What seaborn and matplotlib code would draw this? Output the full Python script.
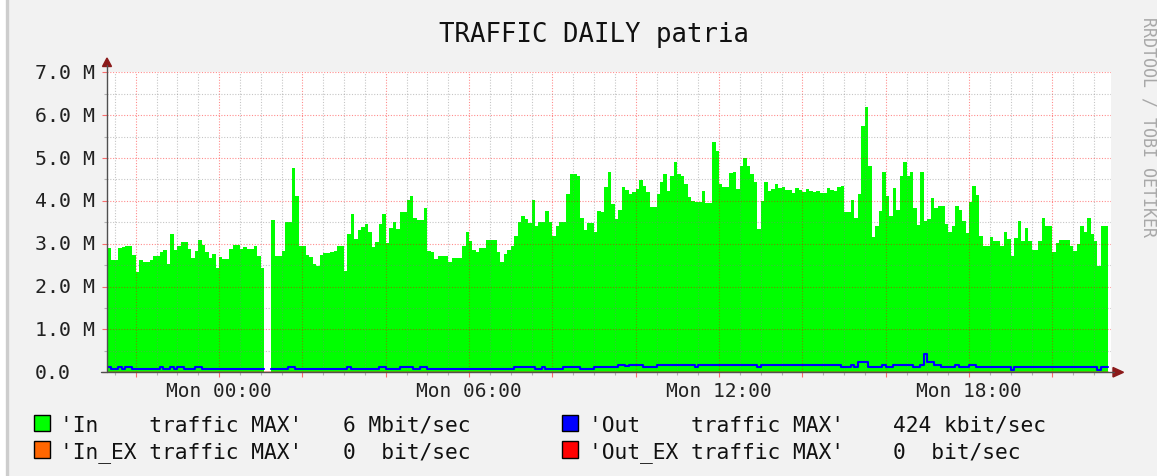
import numpy as np
import pandas as pd
import matplotlib
matplotlib.use("Agg")
import matplotlib.pyplot as plt
from matplotlib.lines import Line2D
from matplotlib.patches import Rectangle, Polygon
from matplotlib.ticker import MultipleLocator, FuncFormatter
import matplotlib.transforms as mtransforms
import seaborn as sns

nan = np.nan

# 5 minute MAX samples, starting Sun 21:20 (hours are relative to Mon 00:00)
start_min = -160
step_min = 5

# In traffic, Mbit/s, one row per hour
in_traffic = [
    2.89, 2.63, 2.63, 2.89, 2.92, 2.95, 2.95, 2.74, 2.35, 2.62, 2.58, 2.58,
    2.63, 2.71, 2.71, 2.80, 2.85, 2.52, 3.23, 2.86, 2.95, 3.05, 3.05, 2.88,
    2.67, 2.82, 3.09, 2.97, 2.80, 2.67, 2.75, 2.43, 2.70, 2.64, 2.64, 2.88,
    2.98, 2.98, 2.88, 2.92, 2.88, 2.88, 2.95, 2.71, 2.43, nan, nan, 3.55,
    2.71, 2.71, 2.82, 3.50, 3.50, 4.77, 4.12, 2.94, 2.94, 2.74, 2.68, 2.53,
    2.49, 2.74, 2.78, 2.78, 2.80, 2.84, 2.94, 2.94, 2.36, 3.23, 3.69, 3.10,
    3.33, 3.38, 3.46, 3.28, 2.92, 3.05, 3.46, 3.69, 3.02, 3.36, 3.51, 3.34,
    3.75, 3.75, 4.02, 4.12, 3.59, 3.56, 3.56, 3.83, 2.83, 2.80, 2.64, 2.71,
    2.71, 2.71, 2.58, 2.66, 2.66, 2.66, 2.95, 3.28, 3.07, 2.86, 2.80, 2.89,
    2.89, 3.09, 3.09, 3.09, 2.80, 2.58, 2.76, 2.86, 2.95, 3.19, 3.51, 3.64,
    3.58, 3.48, 4.02, 3.42, 3.51, 3.51, 3.77, 3.51, 3.19, 3.41, 3.51, 3.51,
    4.16, 4.63, 4.63, 4.59, 3.59, 3.33, 3.48, 3.48, 3.28, 3.77, 3.73, 4.32,
    4.68, 3.93, 3.58, 3.79, 4.32, 4.26, 4.16, 4.21, 4.28, 4.49, 4.35, 4.21,
    3.85, 3.85, 4.16, 4.45, 4.63, 4.22, 4.59, 4.91, 4.63, 4.57, 4.39, 4.08,
    4.00, 3.98, 3.97, 4.24, 3.95, 3.95, 5.37, 5.17, 4.39, 4.32, 4.32, 4.65,
    4.67, 4.28, 4.82, 4.99, 4.81, 4.63, 4.43, 3.34, 4.00, 4.45, 4.24, 4.28,
    4.39, 4.29, 4.32, 4.26, 4.26, 4.18, 4.29, 4.26, 4.21, 4.28, 4.24, 4.21,
    4.24, 4.18, 4.18, 4.29, 4.26, 4.24, 4.32, 4.35, 3.75, 3.75, 4.03, 3.60,
    4.16, 5.74, 6.18, 4.82, 3.15, 3.41, 3.77, 4.68, 4.12, 3.65, 4.30, 3.79,
    4.59, 4.90, 4.59, 4.68, 3.83, 3.44, 4.68, 3.54, 3.58, 4.06, 3.83, 3.89,
    3.89, 3.46, 3.28, 3.41, 3.89, 3.79, 3.54, 3.25, 3.97, 4.35, 4.14, 3.19,
    2.95, 2.95, 3.15, 3.07, 3.07, 2.95, 3.27, 3.11, 2.72, 3.13, 3.54, 3.07,
    3.36, 3.07, 2.86, 2.86, 3.07, 3.59, 3.42, 3.42, 2.80, 3.02, 3.09, 3.09,
    3.09, 2.95, 2.82, 2.99, 3.41, 3.28, 3.59, 3.23, 3.07, 2.49, 3.41, 3.41,
]

# Out traffic, Mbit/s
out_traffic = [
    0.13, 0.08, 0.08, 0.12, 0.08, 0.12, 0.12, 0.08, 0.08, 0.08, 0.08, 0.08,
    0.08, 0.08, 0.08, 0.12, 0.08, 0.08, 0.12, 0.08, 0.12, 0.12, 0.08, 0.08,
    0.08, 0.12, 0.12, 0.08, 0.08, 0.08, 0.08, 0.08, 0.08, 0.08, 0.08, 0.08,
    0.08, 0.08, 0.08, 0.08, 0.08, 0.08, 0.08, 0.08, 0.08, nan, nan, 0.08,
    0.08, 0.08, 0.08, 0.08, 0.12, 0.12, 0.08, 0.08, 0.08, 0.08, 0.08, 0.08,
    0.08, 0.08, 0.08, 0.08, 0.08, 0.08, 0.08, 0.08, 0.08, 0.12, 0.08, 0.08,
    0.08, 0.08, 0.08, 0.08, 0.08, 0.08, 0.12, 0.12, 0.08, 0.08, 0.08, 0.08,
    0.12, 0.12, 0.12, 0.12, 0.08, 0.08, 0.12, 0.12, 0.08, 0.08, 0.08, 0.08,
    0.08, 0.08, 0.08, 0.08, 0.08, 0.08, 0.08, 0.08, 0.08, 0.08, 0.08, 0.08,
    0.08, 0.08, 0.08, 0.08, 0.08, 0.08, 0.08, 0.08, 0.08, 0.12, 0.12, 0.12,
    0.12, 0.12, 0.12, 0.08, 0.08, 0.12, 0.08, 0.08, 0.08, 0.08, 0.08, 0.12,
    0.12, 0.12, 0.12, 0.12, 0.08, 0.08, 0.08, 0.08, 0.12, 0.12, 0.12, 0.12,
    0.12, 0.12, 0.12, 0.17, 0.17, 0.15, 0.17, 0.17, 0.17, 0.17, 0.12, 0.12,
    0.12, 0.12, 0.17, 0.17, 0.17, 0.17, 0.17, 0.17, 0.17, 0.17, 0.17, 0.17,
    0.17, 0.12, 0.17, 0.17, 0.17, 0.17, 0.17, 0.17, 0.17, 0.17, 0.17, 0.17,
    0.17, 0.17, 0.17, 0.17, 0.17, 0.17, 0.17, 0.12, 0.17, 0.17, 0.17, 0.17,
    0.17, 0.17, 0.17, 0.17, 0.17, 0.17, 0.17, 0.17, 0.17, 0.17, 0.17, 0.17,
    0.17, 0.17, 0.17, 0.17, 0.17, 0.17, 0.17, 0.12, 0.12, 0.12, 0.17, 0.12,
    0.23, 0.23, 0.23, 0.12, 0.12, 0.12, 0.12, 0.17, 0.12, 0.12, 0.17, 0.17,
    0.17, 0.17, 0.17, 0.17, 0.12, 0.12, 0.17, 0.424, 0.23, 0.23, 0.17, 0.17,
    0.12, 0.12, 0.12, 0.12, 0.17, 0.12, 0.12, 0.12, 0.17, 0.17, 0.12, 0.12,
    0.12, 0.12, 0.12, 0.12, 0.12, 0.12, 0.12, 0.12, 0.06, 0.12, 0.12, 0.12,
    0.12, 0.12, 0.12, 0.12, 0.12, 0.12, 0.12, 0.12, 0.12, 0.12, 0.12, 0.12,
    0.12, 0.12, 0.12, 0.12, 0.12, 0.12, 0.12, 0.12, 0.12, 0.06, 0.12, 0.12,
]

# the _EX series are flat zero over the whole span (start, end)
in_ex_traffic = [0.0, 0.0]
out_ex_traffic = [0.0, 0.0]

y_tick_text = ["0.0", "1.0 M", "2.0 M", "3.0 M", "4.0 M", "5.0 M", "6.0 M", "7.0 M"]
x_label_hours = [0, 6, 12, 18]
x_label_text = ["Mon 00:00", "Mon 06:00", "Mon 12:00", "Mon 18:00"]

# time edges of each sample, in hours
t_edges = (start_min + step_min * np.arange(len(in_traffic) + 1)) / 60.0

W, H = 1157, 477


def fx(px):
    return px / W


def fy(py):
    return 1 - py / H


def runs(vals):
    # (start, stop) index pairs of the stretches without missing samples
    ok = ~np.isnan(np.asarray(vals, dtype=float))
    out, start = [], None
    for i, good in enumerate(ok):
        if good and start is None:
            start = i
        if not good and start is not None:
            out.append((start, i))
            start = None
    if start is not None:
        out.append((start, len(ok)))
    return out


sns.set_style("ticks")
plt.rcParams["font.family"] = ["DejaVu Sans Mono"]

fig = plt.figure(figsize=(W / 100, H / 100), dpi=100, facecolor="white")

# rrdtool canvas with its light shade border (top and left only show)
fig.patches.append(Rectangle((fx(6.5), -0.1), 1.2, 1.1 + fy(6.5), transform=fig.transFigure,
                             facecolor="#F2F2F2", edgecolor="#CDCDCD", lw=2.4, zorder=-10))

ax_left, ax_right, ax_top, ax_bottom = 107, 1111, 73.3, 373.3
ax = fig.add_axes([fx(ax_left), fy(ax_bottom), (ax_right - ax_left) / W, (ax_bottom - ax_top) / H])
ax.set_facecolor("white")

px_per_hour = 1000 / 24.0
zero_px = 219

# in traffic as a stepped area
in_arr = np.asarray(in_traffic, dtype=float)
for a, b in runs(in_arr):
    xs = t_edges[a:b + 1]
    ys = np.append(in_arr[a:b], in_arr[b - 1])
    ax.fill_between(xs, ys, step="post", color="#00FF00", lw=0, zorder=1)

# out line as steps, split at the missing samples
rows = []
for seg, (a, b) in enumerate(runs(out_traffic)):
    for i in range(a, b):
        rows.append((t_edges[i], out_traffic[i], seg))
        rows.append((t_edges[i + 1], out_traffic[i], seg))
out_df = pd.DataFrame(rows, columns=["hour", "mbit", "seg"])
sns.lineplot(data=out_df, x="hour", y="mbit", units="seg", estimator=None, sort=False,
             color="#0000FF", lw=1.5, ax=ax, zorder=4, legend=False)

span = [t_edges[0], t_edges[-1]]
sns.lineplot(x=span, y=in_ex_traffic, color="#FF6600", lw=1.0, ax=ax, zorder=4)
sns.lineplot(x=span, y=out_ex_traffic, color="#FF0000", lw=1.0, ax=ax, zorder=4)

ax.set_xlim((ax_left - zero_px) / px_per_hour, (ax_right - zero_px) / px_per_hour)
ax.set_ylim(0, 7)
ax.set_xlabel("")
ax.set_ylabel("")
for s in ax.spines.values():
    s.set_visible(False)

ax.xaxis.set_major_locator(MultipleLocator(2))
ax.xaxis.set_minor_locator(MultipleLocator(0.5))
ax.yaxis.set_major_locator(MultipleLocator(1))
ax.yaxis.set_minor_locator(MultipleLocator(0.5))
x_names = dict(zip(x_label_hours, x_label_text))
ax.xaxis.set_major_formatter(FuncFormatter(lambda v, p: x_names.get(int(round(v)), "")))
ax.yaxis.set_major_formatter(FuncFormatter(lambda v, p: ""))

ax.set_axisbelow(False)
ax.grid(which="major", color="#FF0000", alpha=0.45, linestyle=(0, (1, 1.5)), lw=0.8)
ax.grid(which="minor", color="#808080", alpha=0.45, linestyle=(0, (1, 1.5)), lw=0.8)
ax.tick_params(which="major", length=3.6, width=0.8, color=(1, 0, 0, 0.55),
               labelsize=14, labelcolor="#222222", pad=3, left=True, bottom=True)
ax.tick_params(which="minor", length=2.5, width=0.8, color=(0.5, 0.5, 0.5, 0.55),
               left=True, bottom=True)

# y labels are left aligned like rrdtool
trans = mtransforms.blended_transform_factory(fig.transFigure, ax.transData)
for v, lab in enumerate(y_tick_text):
    ax.text(fx(35), v, lab, transform=trans, ha="left", va="center",
            fontsize=14.3, color="#222222", clip_on=False)

# axis lines with arrows
fig.lines.append(Line2D([fx(107), fx(107)], [fy(373.3), fy(66)], transform=fig.transFigure,
                        color="#505050", lw=1.0))
fig.lines.append(Line2D([fx(101), fx(1114)], [fy(373.3), fy(373.3)], transform=fig.transFigure,
                        color="#505050", lw=1.0))
arrow_c = "#8B1A1A"
fig.patches.append(Polygon([(fx(107), fy(59)), (fx(102.5), fy(67.5)), (fx(111.5), fy(67.5))],
                           closed=True, transform=fig.transFigure, color=arrow_c))
fig.patches.append(Polygon([(fx(1123.5), fy(373.3)), (fx(1113), fy(368.5)), (fx(1113), fy(378))],
                           closed=True, transform=fig.transFigure, color=arrow_c))

fig.text(fx(594), fy(42), "TRAFFIC DAILY patria", ha="center", va="baseline",
         fontsize=18.5, color="#111111")
fig.text(fx(1148), fy(127), "RRDTOOL / TOBI OETIKER", rotation=270, ha="center", va="center",
         fontsize=12, color="#A8A8A8")

# legend
in_max = np.nanmax(in_traffic)
out_max = np.nanmax(out_traffic)
legend_rows = [
    ("#00FF00", "'In    traffic MAX'", f"{in_max:.0f} Mbit/sec",
     "#0000FF", "'Out    traffic MAX'", f"{out_max * 1000:.0f} kbit/sec"),
    ("#FF6600", "'In_EX traffic MAX'", "0  bit/sec",
     "#FF0000", "'Out_EX traffic MAX'", "0  bit/sec"),
]
for r, (c1, t1, v1, c2, t2, v2) in enumerate(legend_rows):
    base = 432 + r * 26.5
    for bx, c in ((33.5, c1), (562, c2)):
        fig.patches.append(Rectangle((fx(bx), fy(base)), 16 / W, 16.5 / H, transform=fig.transFigure,
                                     facecolor=c, edgecolor="black", lw=1.0))
    for tx, txt in ((60, t1), (343, v1), (589, t2), (893, v2)):
        fig.text(fx(tx), fy(base), txt, ha="left", va="baseline", fontsize=15.3, color="#111111")

fig.savefig("out.png", dpi=100, facecolor=fig.get_facecolor())
